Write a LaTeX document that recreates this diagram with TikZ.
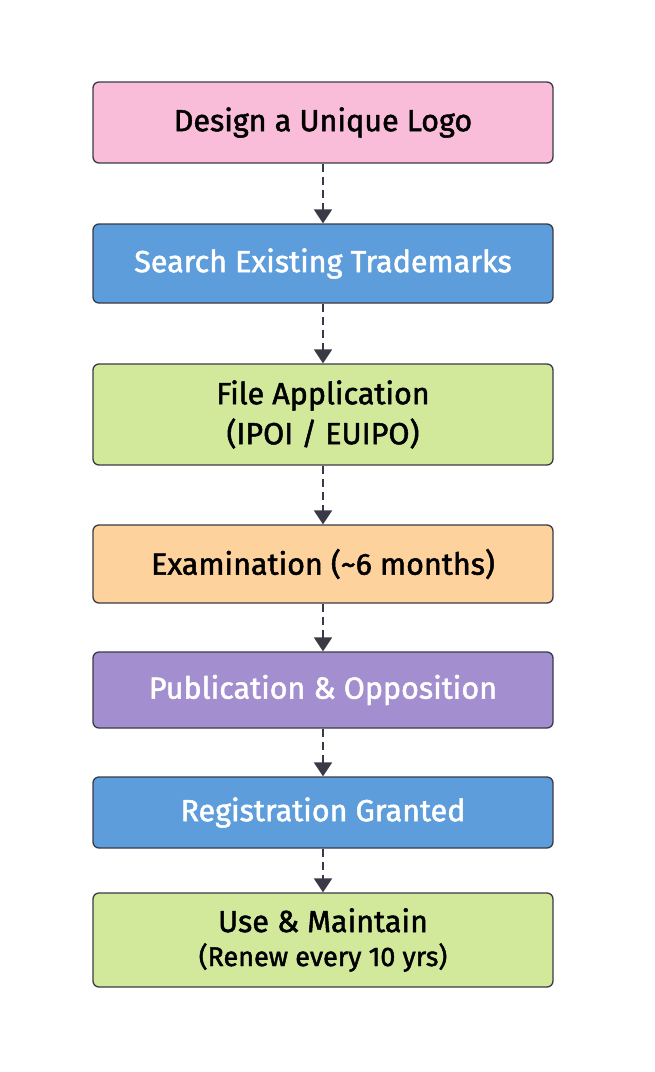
\documentclass[tikz,border=0pt]{standalone}
\usepackage{fontspec}
\setmainfont{Fira Sans}[FakeBold=1.6]
\usetikzlibrary{arrows.meta}
\definecolor{edge}{HTML}{3A3A46}
\definecolor{cpink}{HTML}{F9BCD9}
\definecolor{cblue}{HTML}{5E9DDC}
\definecolor{cgreen}{HTML}{D2E99B}
\definecolor{corange}{HTML}{FDD29C}
\definecolor{cpurple}{HTML}{A38FD0}
\tikzset{
  stepbox/.style={draw=edge, line width=1.3pt, rounded corners=6pt, minimum width=460pt, align=center, inner sep=0pt, font=\fontsize{30.5}{40}\selectfont},
  darktext/.style={text=black},
  lighttext/.style={text=white},
  flow/.style={draw=edge, line width=2pt, dash pattern=on 8pt off 5pt, -{Triangle[width=18pt,length=14pt]}},
}
\begin{document}
\begin{tikzpicture}[x=1pt,y=-1pt]
\useasboundingbox (0,0) rectangle (654,1072);
\node[stepbox, fill=cpink, darktext, minimum height=81pt] (a) at (323,122.5) {Design a Unique Logo};
\node[stepbox, fill=cblue, lighttext, minimum height=79pt] (b) at (323,263.5) {Search Existing Trademarks};
\node[stepbox, fill=cgreen, darktext, minimum height=101pt] (c) at (323,414.5) {File Application\\(IPOI / EUIPO)};
\node[stepbox, fill=corange, darktext, minimum height=78pt] (d) at (323,564) {Examination (\textasciitilde6 months)};
\node[stepbox, fill=cpurple, lighttext, minimum height=76pt] (e) at (323,690) {Publication \& Opposition};
\node[stepbox, fill=cblue, lighttext, minimum height=71pt] (f) at (323,812.5) {Registration Granted};
\node[stepbox, fill=cgreen, darktext, minimum height=94pt] (g) at (323,940) {Use \& Maintain\\[-6pt]{\fontsize{27}{32}\selectfont (Renew every 10 yrs)}};
\draw[flow] (a.south) -- (b.north);
\draw[flow] (b.south) -- (c.north);
\draw[flow] (c.south) -- (d.north);
\draw[flow] (d.south) -- (e.north);
\draw[flow] (e.south) -- (f.north);
\draw[flow] (f.south) -- (g.north);
\end{tikzpicture}
\end{document}
